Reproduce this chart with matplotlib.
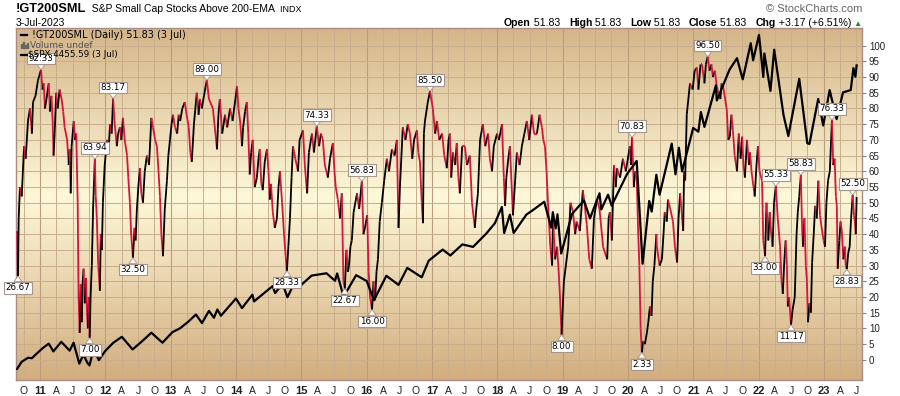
import numpy as np
import pandas as pd
import matplotlib
matplotlib.use('Agg')
import matplotlib.pyplot as plt
import matplotlib.dates as mdates
from matplotlib.collections import LineCollection
from matplotlib.colors import LinearSegmentedColormap
from matplotlib.offsetbox import TextArea, HPacker, AnnotationBbox
from matplotlib.patches import Rectangle

# !GT200SML - % of S&P small caps above 200-EMA
gt_dates = [
    "2010-08-25", "2010-08-30", "2010-09-03", "2010-09-10", "2010-09-20", "2010-10-03", "2010-10-12",
    "2010-10-25", "2010-11-05", "2010-11-16", "2010-11-22", "2010-12-06", "2010-12-20", "2011-01-06",
    "2011-01-14", "2011-01-21", "2011-01-28", "2011-02-08", "2011-02-18", "2011-02-25", "2011-03-05",
    "2011-03-12", "2011-03-17", "2011-03-23", "2011-04-01", "2011-04-09", "2011-04-20", "2011-05-01",
    "2011-05-10", "2011-05-18", "2011-06-01", "2011-06-10", "2011-06-15", "2011-06-21", "2011-06-26",
    "2011-07-08", "2011-07-15", "2011-07-22", "2011-07-30", "2011-08-04", "2011-08-10", "2011-08-16",
    "2011-08-22", "2011-08-27", "2011-09-01", "2011-09-08", "2011-09-14", "2011-09-20", "2011-09-25",
    "2011-09-30", "2011-10-05", "2011-10-10", "2011-10-17", "2011-10-24", "2011-11-03", "2011-11-08",
    "2011-11-14", "2011-11-22", "2011-12-01", "2011-12-06", "2011-12-12", "2011-12-18", "2011-12-28",
    "2012-01-10", "2012-01-18", "2012-01-27", "2012-02-05", "2012-02-13", "2012-02-22", "2012-03-05",
    "2012-03-12", "2012-03-22", "2012-03-30", "2012-04-08", "2012-04-18", "2012-05-01", "2012-05-08",
    "2012-05-17", "2012-05-24", "2012-06-03", "2012-06-12", "2012-06-18", "2012-06-25", "2012-07-03",
    "2012-07-12", "2012-07-20", "2012-07-29", "2012-08-08", "2012-08-20", "2012-09-01", "2012-09-14",
    "2012-09-23", "2012-10-05", "2012-10-15", "2012-10-24", "2012-11-01", "2012-11-09", "2012-11-18",
    "2012-11-28", "2012-12-10", "2012-12-18", "2012-12-27", "2013-01-05", "2013-01-13", "2013-01-24",
    "2013-02-05", "2013-02-14", "2013-02-22", "2013-03-06", "2013-03-20", "2013-03-30", "2013-04-11",
    "2013-04-20", "2013-04-28", "2013-05-10", "2013-05-26", "2013-06-05", "2013-06-12", "2013-06-23",
    "2013-07-05", "2013-07-21", "2013-08-02", "2013-08-24", "2013-09-02", "2013-09-16", "2013-09-24",
    "2013-10-02", "2013-10-15", "2013-10-31", "2013-11-12", "2013-11-28", "2013-12-12", "2014-01-06",
    "2014-01-14", "2014-01-23", "2014-02-03", "2014-02-09", "2014-02-20", "2014-03-02", "2014-03-10",
    "2014-03-18", "2014-03-26", "2014-04-04", "2014-04-15", "2014-04-27", "2014-05-06", "2014-05-13",
    "2014-05-22", "2014-05-30", "2014-06-10", "2014-06-22", "2014-07-01", "2014-07-08", "2014-07-15",
    "2014-07-25", "2014-08-05", "2014-08-17", "2014-08-26", "2014-09-03", "2014-09-15", "2014-09-26",
    "2014-10-05", "2014-10-12", "2014-10-20", "2014-10-29", "2014-11-07", "2014-11-15", "2014-11-28",
    "2014-12-13", "2014-12-22", "2015-01-10", "2015-01-20", "2015-02-02", "2015-02-12", "2015-03-01",
    "2015-03-12", "2015-03-28", "2015-04-10", "2015-04-20", "2015-05-01", "2015-05-12", "2015-05-29",
    "2015-06-10", "2015-06-26", "2015-07-05", "2015-07-12", "2015-07-24", "2015-08-05", "2015-08-15",
    "2015-08-24", "2015-09-01", "2015-09-10", "2015-09-18", "2015-09-24", "2015-10-02", "2015-10-10",
    "2015-10-20", "2015-11-08", "2015-11-20", "2015-12-05", "2015-12-14", "2015-12-22", "2016-01-04",
    "2016-01-12", "2016-01-20", "2016-01-31", "2016-02-08", "2016-02-17", "2016-02-25", "2016-03-04",
    "2016-03-14", "2016-03-26", "2016-04-08", "2016-04-23", "2016-05-05", "2016-05-21", "2016-06-05",
    "2016-06-18", "2016-06-27", "2016-07-05", "2016-07-21", "2016-08-05", "2016-08-18", "2016-08-30",
    "2016-09-12", "2016-09-22", "2016-10-08", "2016-10-16", "2016-10-25", "2016-11-04", "2016-11-11",
    "2016-11-16", "2016-11-22", "2016-12-08", "2016-12-20", "2017-01-05", "2017-01-18", "2017-01-28",
    "2017-02-10", "2017-02-26", "2017-03-10", "2017-03-24", "2017-04-03", "2017-04-10", "2017-04-18",
    "2017-04-27", "2017-05-10", "2017-05-19", "2017-05-28", "2017-06-05", "2017-06-18", "2017-07-03",
    "2017-07-15", "2017-07-31", "2017-08-12", "2017-08-28", "2017-09-05", "2017-09-14", "2017-09-26",
    "2017-10-12", "2017-10-25", "2017-11-10", "2017-11-20", "2017-12-02", "2017-12-12", "2017-12-30",
    "2018-01-10", "2018-01-27", "2018-02-06", "2018-02-13", "2018-02-20", "2018-03-01", "2018-03-12",
    "2018-03-29", "2018-04-08", "2018-04-20", "2018-05-05", "2018-05-18", "2018-06-01", "2018-06-15",
    "2018-06-28", "2018-07-13", "2018-07-25", "2018-08-10", "2018-08-25", "2018-09-07", "2018-09-15",
    "2018-09-24", "2018-10-03", "2018-10-11", "2018-10-24", "2018-11-03", "2018-11-08", "2018-11-20",
    "2018-12-01", "2018-12-10", "2018-12-17", "2018-12-26", "2019-01-08", "2019-02-01", "2019-02-14",
    "2019-02-28", "2019-03-12", "2019-03-20", "2019-04-07", "2019-04-24", "2019-05-03", "2019-05-16",
    "2019-05-30", "2019-06-13", "2019-06-25", "2019-07-12", "2019-07-26", "2019-08-15", "2019-09-07",
    "2019-09-15", "2019-09-22", "2019-10-03", "2019-10-15", "2019-10-25", "2019-11-01", "2019-11-18",
    "2019-12-04", "2019-12-20", "2020-01-12", "2020-01-18", "2020-01-24", "2020-02-03", "2020-02-10",
    "2020-02-20", "2020-02-27", "2020-03-05", "2020-03-12", "2020-03-19", "2020-03-26", "2020-04-05",
    "2020-04-16", "2020-04-24", "2020-05-03", "2020-05-12", "2020-05-19", "2020-05-28", "2020-06-08",
    "2020-06-11", "2020-06-26", "2020-07-09", "2020-07-18", "2020-07-25", "2020-08-05", "2020-08-12",
    "2020-08-25", "2020-09-09", "2020-09-20", "2020-10-02", "2020-10-10", "2020-10-19", "2020-11-05",
    "2020-11-10", "2020-11-16", "2020-11-25", "2020-12-13", "2020-12-28", "2021-01-08", "2021-01-21",
    "2021-01-29", "2021-02-10", "2021-02-18", "2021-03-04", "2021-03-12", "2021-03-22", "2021-04-01",
    "2021-04-12", "2021-04-20", "2021-05-01", "2021-05-12", "2021-05-20", "2021-06-01", "2021-06-08",
    "2021-06-16", "2021-06-25", "2021-07-07", "2021-07-15", "2021-07-24", "2021-08-02", "2021-08-10",
    "2021-08-20", "2021-09-02", "2021-09-12", "2021-09-22", "2021-10-01", "2021-10-08", "2021-10-16",
    "2021-10-28", "2021-11-08", "2021-11-14", "2021-11-22", "2021-12-01", "2021-12-10", "2021-12-20",
    "2021-12-28", "2022-01-06", "2022-01-20", "2022-01-27", "2022-02-06", "2022-02-14", "2022-02-24",
    "2022-03-04", "2022-03-12", "2022-03-20", "2022-03-28", "2022-04-07", "2022-04-18", "2022-05-01",
    "2022-05-09", "2022-05-16", "2022-05-25", "2022-06-01", "2022-06-08", "2022-06-13", "2022-06-20",
    "2022-07-01", "2022-07-10", "2022-07-22", "2022-08-01", "2022-08-08", "2022-08-16", "2022-08-25",
    "2022-09-01", "2022-09-06", "2022-09-14", "2022-09-22", "2022-09-28", "2022-10-04", "2022-10-12",
    "2022-10-20", "2022-10-27", "2022-11-05", "2022-11-13", "2022-11-22", "2022-12-01", "2022-12-10",
    "2022-12-22", "2022-12-30", "2023-01-07", "2023-01-15", "2023-01-24", "2023-02-03", "2023-02-15",
    "2023-02-22", "2023-03-02", "2023-03-09", "2023-03-14", "2023-03-19", "2023-03-28", "2023-04-04",
    "2023-04-11", "2023-04-20", "2023-04-28", "2023-05-03", "2023-05-09", "2023-05-17", "2023-05-25",
    "2023-06-02", "2023-06-11", "2023-06-18", "2023-06-23", "2023-06-28", "2023-07-03",
]
gt_values = [
    41, 26.67, 45, 55, 52, 68, 64,
    76, 80, 72, 82, 84, 89, 92.33,
    86, 88, 80, 84, 88, 79, 84,
    76, 65, 72, 85, 80, 86, 83,
    79, 74, 70, 62, 67, 53, 68,
    76, 70, 72, 50, 20, 8.6, 24,
    12, 25, 29, 18, 26, 15, 10,
    20, 7.00, 20, 30, 48, 63.94, 52,
    45, 30, 22, 40, 35, 50, 62,
    70, 66, 75, 72, 83.17, 75, 68,
    72, 74, 70, 77, 70, 65, 58,
    50, 40, 32.50, 42, 38, 48, 55,
    61, 53, 50, 60, 65, 62, 77,
    74, 70, 68, 60, 52, 40, 33,
    48, 57, 65, 70, 75, 78, 74,
    72, 78, 76, 80, 82, 78, 74,
    66, 63, 75, 85, 78, 83, 80,
    84, 89.00, 83, 80, 75, 67, 78,
    83, 72, 78, 74, 80, 76, 87,
    80, 76, 68, 74, 79, 82, 72,
    59, 66, 70, 55, 58, 64, 67,
    56, 54, 63, 67, 60, 51, 56,
    47, 42, 45, 55, 60, 50, 40,
    33, 28.33, 36, 45, 58, 68, 64,
    60, 70, 73, 62, 53, 66, 72,
    66, 74.33, 68, 72, 70, 62, 58,
    64, 69, 60, 55, 51, 45, 53,
    25, 22.67, 35, 28, 30, 36, 38,
    47, 53, 48, 56.83, 40, 42, 46,
    28, 20, 16.00, 25, 19, 28, 32,
    44, 50, 57, 64, 60, 67, 65,
    70, 42, 55, 74, 70, 75, 72,
    64, 70, 73, 66, 63, 50, 43.5,
    72, 76, 82, 85.50, 80, 72, 76,
    70, 72, 65, 61, 70, 72, 58,
    66, 62, 69, 58, 53, 68, 68,
    62, 65, 50, 42, 48, 53, 70,
    75, 68, 72, 64, 60, 68, 72,
    70, 75, 58, 49, 58, 63, 68,
    46, 55, 66, 62, 68, 72, 76,
    70, 78, 72, 72, 78, 74, 70,
    68, 60, 50, 36, 30, 45, 32,
    36, 28, 20, 8.00, 25, 36, 50,
    47, 40, 44, 41, 54, 50, 43,
    32, 29, 45, 51, 48, 36, 32,
    45, 47, 38, 62, 55, 61, 58,
    64, 60, 68, 62, 70.83, 55, 60,
    57, 41, 30, 10, 2.33, 6, 5,
    8.6, 12, 17, 14, 25, 30, 40,
    36, 30, 32, 40, 47, 44, 51,
    48, 44, 36, 31, 45, 53, 41,
    60, 57, 78, 88, 86, 92, 93,
    86, 94, 94, 88, 94, 96.50, 92,
    94, 90, 92, 87, 85, 83, 88,
    87, 84, 79.5, 70, 71, 78, 73,
    65, 60, 72, 64, 71, 62, 58,
    70, 62, 66, 60, 56, 52, 62,
    68, 60, 57, 38, 33.00, 50, 38,
    47, 40, 36, 50, 55.33, 45, 36,
    25, 21, 32, 38, 30, 17, 20,
    11.17, 16, 20, 40, 47, 52, 58.83,
    42, 36, 45, 30, 25, 12, 18,
    15, 31, 40, 49, 45, 57, 46,
    41, 38, 36, 50, 57, 60, 76.33,
    62, 64, 52, 49, 29, 38, 44,
    41, 32, 36, 30, 28.83, 34, 36,
    45, 52.50, 46, 44, 40, 51.83,
]

# $SPX overlay, plotted on its own hidden scale
spx_dates = [
    "2010-08-25", "2010-09-20", "2010-10-25", "2010-11-16", "2010-12-20", "2011-01-14", "2011-02-18",
    "2011-03-16", "2011-04-29", "2011-06-15", "2011-07-07", "2011-08-08", "2011-08-31", "2011-09-22",
    "2011-10-04", "2011-10-27", "2011-11-25", "2011-12-30", "2012-02-13", "2012-04-02", "2012-06-01",
    "2012-07-20", "2012-09-14", "2012-11-15", "2013-01-10", "2013-02-22", "2013-04-11", "2013-05-21",
    "2013-06-24", "2013-08-02", "2013-08-30", "2013-09-18", "2013-10-08", "2013-12-31", "2014-02-03",
    "2014-04-02", "2014-04-11", "2014-07-24", "2014-08-07", "2014-09-18", "2014-10-15", "2014-12-05",
    "2014-12-16", "2015-02-27", "2015-05-21", "2015-07-08", "2015-07-20", "2015-08-25", "2015-11-03",
    "2016-01-01", "2016-02-11", "2016-04-20", "2016-06-27", "2016-08-15", "2016-11-04", "2016-12-13",
    "2017-03-01", "2017-04-13", "2017-06-19", "2017-08-18", "2017-10-31", "2017-12-18", "2018-01-26",
    "2018-02-08", "2018-03-12", "2018-04-02", "2018-06-12", "2018-07-25", "2018-09-20", "2018-10-29",
    "2018-11-07", "2018-11-23", "2018-12-03", "2018-12-24", "2019-02-22", "2019-04-30", "2019-06-03",
    "2019-07-26", "2019-08-05", "2019-09-12", "2019-10-02", "2019-12-27", "2020-02-19", "2020-03-23",
    "2020-04-29", "2020-05-13", "2020-06-08", "2020-06-26", "2020-09-02", "2020-09-23", "2020-10-12",
    "2020-10-30", "2020-12-31", "2021-01-29", "2021-02-12", "2021-03-04", "2021-05-07", "2021-05-12",
    "2021-07-23", "2021-09-02", "2021-10-04", "2021-11-18", "2021-12-01", "2022-01-03", "2022-01-27",
    "2022-02-02", "2022-03-08", "2022-03-29", "2022-05-20", "2022-06-16", "2022-08-16", "2022-09-30",
    "2022-10-12", "2022-11-30", "2022-12-28", "2023-02-02", "2023-03-13", "2023-04-18", "2023-05-31",
    "2023-06-15", "2023-06-26", "2023-07-03",
]
spx_values = [
    1060, 1140, 1185, 1180, 1245, 1290, 1343,
    1256, 1363, 1265, 1353, 1119, 1219, 1129,
    1099, 1285, 1158, 1258, 1351, 1419, 1278,
    1362, 1465, 1353, 1472, 1515, 1593, 1669,
    1573, 1709, 1632, 1725, 1655, 1848, 1741,
    1890, 1815, 1987, 1909, 2011, 1862, 2075,
    1972, 2104, 2130, 2046, 2128, 1867, 2109,
    2044, 1829, 2102, 2000, 2190, 2085, 2271,
    2395, 2329, 2453, 2425, 2575, 2690, 2872,
    2581, 2786, 2581, 2786, 2846, 2930, 2641,
    2813, 2632, 2790, 2351, 2792, 2945, 2744,
    3025, 2844, 3009, 2887, 3240, 3386, 2237,
    2939, 2820, 3232, 3009, 3580, 3237, 3534,
    3270, 3756, 3714, 3934, 3768, 4232, 4063,
    4411, 4536, 4300, 4704, 4513, 4796, 4326,
    4589, 4170, 4631, 3901, 3666, 4305, 3585,
    3577, 4080, 3783, 4179, 3855, 4154, 4180,
    4425, 4328, 4455.59,
]

# callout labels: date, value, side
label_dates = ["2010-08-30", "2011-01-06", "2011-10-05", "2011-11-03", "2012-02-13", "2012-06-03",
               "2013-07-21", "2014-10-12", "2015-03-28", "2015-09-01", "2015-12-05", "2016-01-31",
               "2016-12-20", "2018-12-26", "2020-01-24", "2020-03-19", "2021-03-22", "2022-02-06",
               "2022-04-07", "2022-07-01", "2022-08-25", "2023-02-15", "2023-05-09", "2023-06-11"]
label_values = [26.67, 92.33, 7.00, 63.94, 83.17, 32.50, 89.00, 28.33, 74.33, 22.67, 56.83, 16.00,
                85.50, 8.00, 70.83, 2.33, 96.50, 33.00, 55.33, 11.17, 58.83, 76.33, 28.83, 52.50]
label_side = ["low", "high", "low", "high", "high", "low", "high", "low", "high", "low", "high", "low",
              "high", "low", "high", "low", "high", "low", "high", "low", "high", "high", "low", "high"]

RED = '#D8143A'
W, H = 900, 396
fig = plt.figure(figsize=(9, 3.96), dpi=100)

l, r, t, b = 16, 862, 28, 380
ax = fig.add_axes([l / W, 1 - b / H, (r - l) / W, (b - t) / H])

# background gradient
bg = LinearSegmentedColormap.from_list('bg', [(0, '#D2AD7F'), (0.52, '#FDF8D8'), (1, '#D5B589')])
ax.imshow(np.linspace(0, 1, 256).reshape(-1, 1), cmap=bg, extent=[0, 1, 0, 1],
          transform=ax.transAxes, aspect='auto', origin='lower', zorder=0)

gx = mdates.date2num(pd.to_datetime(gt_dates))
gy = np.array(gt_values)
segs = np.stack([np.column_stack([gx[:-1], gy[:-1]]), np.column_stack([gx[1:], gy[1:]])], axis=1)
cols = np.where(np.diff(gy) > 0, 'black', RED)
ax.add_collection(LineCollection(segs, colors=cols, linewidths=1.3, zorder=3))

ax.set_xlim(pd.Timestamp("2010-08-19"), pd.Timestamp("2023-08-02"))
ax.set_ylim(-6.4, 105.6)

# SPX on its own scale
axs = ax.twinx()
axs.patch.set_visible(False)
axs.plot(pd.to_datetime(spx_dates), spx_values, color='black', lw=1.6, zorder=3)
axs.set_ylim(936, 4874)
axs.set_yticks([])
axs.tick_params(right=False)
for s in axs.spines.values():
    s.set_visible(False)

# grid + ticks (after twinx, which moves the y ticks left)
ax.set_axisbelow(True)
ax.xaxis.set_major_locator(mdates.MonthLocator(bymonth=[1]))
ax.xaxis.set_minor_locator(mdates.MonthLocator(bymonth=[4, 7, 10]))
ax.xaxis.set_major_formatter(mdates.DateFormatter('%y'))
ax.xaxis.set_minor_formatter(plt.FuncFormatter(lambda v, p: mdates.num2date(v).strftime('%b')[0]))
ax.grid(True, which='major', axis='x', color='#B99D7E', lw=0.8)
ax.grid(True, which='minor', axis='x', color='#C8AE8D', lw=0.7)
ax.set_yticks(range(0, 101, 5))
ax.grid(True, which='major', axis='y', color='#C8AE8D', lw=0.7)
ax.yaxis.tick_right()
ax.tick_params(axis='y', length=3, width=0.8, color='#888888', pad=2, labelsize=7,
               labelfontfamily='Liberation Sans', labelcolor='#222222')
ax.tick_params(axis='x', which='both', length=0, pad=4, labelsize=7.5,
               labelfontfamily='Liberation Sans', labelcolor='#222222')
for s in ax.spines.values():
    s.set_color('#A98C82')
    s.set_linewidth(1)

# callouts
for d, v, side in zip(label_dates, label_values, label_side):
    off = 8 if side == "high" else -8.5
    axs.annotate(f"{v:.2f}", xy=(mdates.date2num(pd.Timestamp(d)), v), xycoords=ax.transData,
                 xytext=(0, off), textcoords='offset points', ha='center', va='center',
                 fontsize=6.3, family='DejaVu Sans', color='black', annotation_clip=False, zorder=6,
                 bbox=dict(boxstyle='square,pad=0.15', fc='white', ec='#A5958C', lw=0.8),
                 arrowprops=dict(arrowstyle='wedge,tail_width=0.9,shrink_factor=0.5', fc='white',
                                 ec='#A5958C', lw=0.6, shrinkA=0, shrinkB=0))

# legend inside
def fy(y):
    return 1 - y / H

fig.add_artist(plt.Line2D([20.5 / W, 27 / W], [fy(35), fy(35)], color='black', lw=1.6))
fig.text(32 / W, fy(35), "!GT200SML (Daily) 51.83 (3 Jul)", fontsize=7, family='DejaVu Sans',
         va='center', ha='left')
for i, hh in enumerate([4, 6, 3, 5]):
    fig.add_artist(Rectangle(((20.5 + i * 2) / W, fy(48)), 1.2 / W, hh / H, color='#666666'))
fig.text(29.5 / W, fy(45), "Volume undef", fontsize=6.5, family='DejaVu Sans', color='#555555',
         va='center', ha='left')
fig.add_artist(plt.Line2D([20.5 / W, 26.5 / W], [fy(54.5), fy(54.5)], color='black', lw=1.6))
fig.text(28 / W, fy(54.5), "$SPX 4455.59 (3 Jul)", fontsize=6.3, family='DejaVu Sans',
         va='center', ha='left')

# header
def packed(parts, x, y, align):
    areas = [TextArea(s, textprops=dict(fontsize=fs, fontweight=wt, color=c, family='Liberation Sans'))
             for s, fs, wt, c in parts]
    box = HPacker(children=areas, align='baseline', pad=0, sep=0)
    fig.add_artist(AnnotationBbox(box, (x, H - y), xycoords='figure pixels', box_alignment=align,
                                  frameon=False, pad=0))

packed([("!GT200SML", 9.2, 'bold', 'black'), ("  S&P Small Cap Stocks Above 200-EMA", 7.5, 'normal', 'black'),
        ("  INDX", 6.5, 'normal', 'black')], 16, 9.5, (0, 0.5))
fig.text(16 / W, fy(22.5), "3-Jul-2023", fontsize=7.5, family='Liberation Sans', va='center', ha='left')
packed([("\u00a9 StockCharts.com", 8, 'normal', '#666666')], 862, 9.5, (1, 0.5))
packed([("Open", 7.6, 'bold', 'black'), (" 51.83   ", 7.6, 'normal', 'black'),
        ("High", 7.6, 'bold', 'black'), (" 51.83   ", 7.6, 'normal', 'black'),
        ("Low", 7.6, 'bold', 'black'), (" 51.83   ", 7.6, 'normal', 'black'),
        ("Close", 7.6, 'bold', 'black'), (" 51.83   ", 7.6, 'normal', 'black'),
        ("Chg", 7.6, 'bold', 'black'), (" +3.17 (+6.51%) ", 7.6, 'normal', 'black'),
        ("\u25b2", 6, 'normal', '#2E8B2E')], 862, 22.5, (1, 0.5))

fig.canvas.draw()
for tl in ax.xaxis.get_majorticklabels():
    tl.set_fontweight('bold')
    tl.set_fontsize(8)

fig.savefig('out.png', dpi=100)
